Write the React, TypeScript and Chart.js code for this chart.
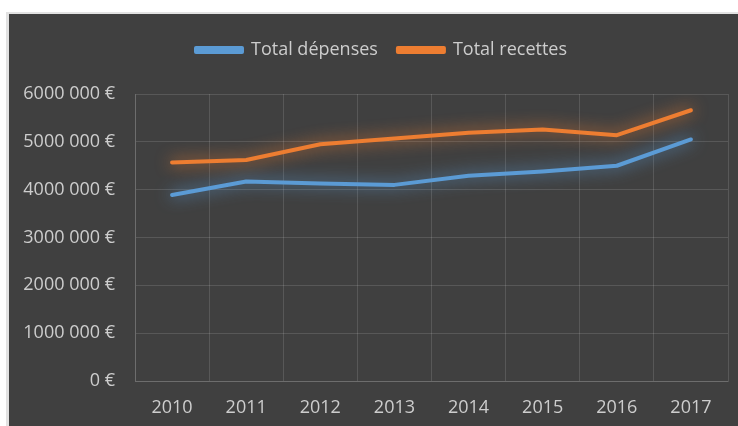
import React, { useEffect, useRef } from "react";
import { Chart, registerables } from "chart.js";

Chart.register(...registerables);

const years = ["2010", "2011", "2012", "2013", "2014", "2015", "2016", "2017"];
const depenses = [3890000, 4170000, 4130000, 4100000, 4290000, 4380000, 4500000, 5050000];
const recettes = [4570000, 4620000, 4950000, 5070000, 5190000, 5260000, 5140000, 5660000];

const BLUE = "#5B9BD5";
const ORANGE = "#ED7D31";
const TEXT = "#CDCDCD";
const FONT = "'Open Sans', 'Noto Sans', sans-serif";
const GRID = "rgba(255,255,255,0.13)";

const glowPlugin = {
  id: "glow",
  beforeDatasetDraw(chart: any, args: any) {
    const ctx = chart.ctx;
    const ds = chart.data.datasets[args.index];
    ctx.save();
    ctx.shadowColor = ds.borderColor;
    ctx.shadowBlur = 16;
  },
  afterDatasetDraw(chart: any) {
    chart.ctx.restore();
  },
};

const legendSpace = {
  id: "legendSpace",
  beforeInit(chart: any) {
    const lg = chart.legend;
    if (!lg) return;
    const orig = lg.fit;
    lg.fit = function () {
      orig.call(this);
      this.height += 25;
    };
  },
  afterLayout(chart: any) {
    const lg = chart.legend;
    if (!lg) return;
    lg.left += 13;
    lg.right += 13;
  },
};

function fmt(v: number) {
  if (v === 0) return "0 €";
  const m = Math.round(v / 1000000);
  return `${m}000 000 €`;
}

export default function App() {
  const ref = useRef<HTMLCanvasElement>(null);
  useEffect(() => {
    document.body.style.margin = "0";
    const chart = new Chart(ref.current!, {
      type: "line",
      data: {
        labels: years,
        datasets: [
          {
            label: "Total dépenses",
            data: depenses,
            borderColor: BLUE,
            backgroundColor: BLUE,
            borderWidth: 4,
            pointRadius: 0,
            tension: 0,
            borderJoinStyle: "round",
            borderCapStyle: "round",
          },
          {
            label: "Total recettes",
            data: recettes,
            borderColor: ORANGE,
            backgroundColor: ORANGE,
            borderWidth: 4,
            pointRadius: 0,
            tension: 0,
            borderJoinStyle: "round",
            borderCapStyle: "round",
          },
        ],
      },
      options: {
        animation: false,
        responsive: false,
        maintainAspectRatio: false,
        layout: { padding: { top: 7, right: 10, left: 0, bottom: 0 } },
        plugins: {
          legend: {
            position: "top",
            labels: {
              color: TEXT,
              font: { family: FONT, size: 18 },
              boxWidth: 46,
              boxHeight: 4,
              padding: 20,
            },
          },
          tooltip: { enabled: false },
        },
        scales: {
          x: {
            offset: true,
            grid: { color: GRID, offset: true, drawTicks: false },
            border: { color: GRID },
            ticks: { color: TEXT, font: { family: FONT, size: 18 }, padding: 16 },
            afterFit: (s: any) => {
              s.height = 45;
            },
          },
          y: {
            min: 0,
            max: 6000000,
            grid: { color: GRID, drawTicks: false },
            border: { color: GRID },
            ticks: {
              stepSize: 1000000,
              color: TEXT,
              font: { family: FONT, size: 18 },
              padding: 20,
              callback: (v: any) => fmt(Number(v)),
            },
            afterFit: (s: any) => {
              s.width = 126;
            },
          },
        },
      },
      plugins: [glowPlugin, legendSpace],
    });
    return () => chart.destroy();
  }, []);
  return (
    <div style={{ width: 738, height: 426, background: "#fff", position: "relative", overflow: "hidden" }}>
      <div
        style={{
          position: "absolute",
          left: 6,
          top: 12,
          width: 732,
          height: 414,
          background: "#404040",
          borderTop: "2px solid #e2e2e2",
          borderLeft: "3px solid #e2e2e2",
          boxSizing: "border-box",
        }}
      >
        <canvas ref={ref} width={729} height={412} style={{ display: "block" }} />
      </div>
    </div>
  );
}
